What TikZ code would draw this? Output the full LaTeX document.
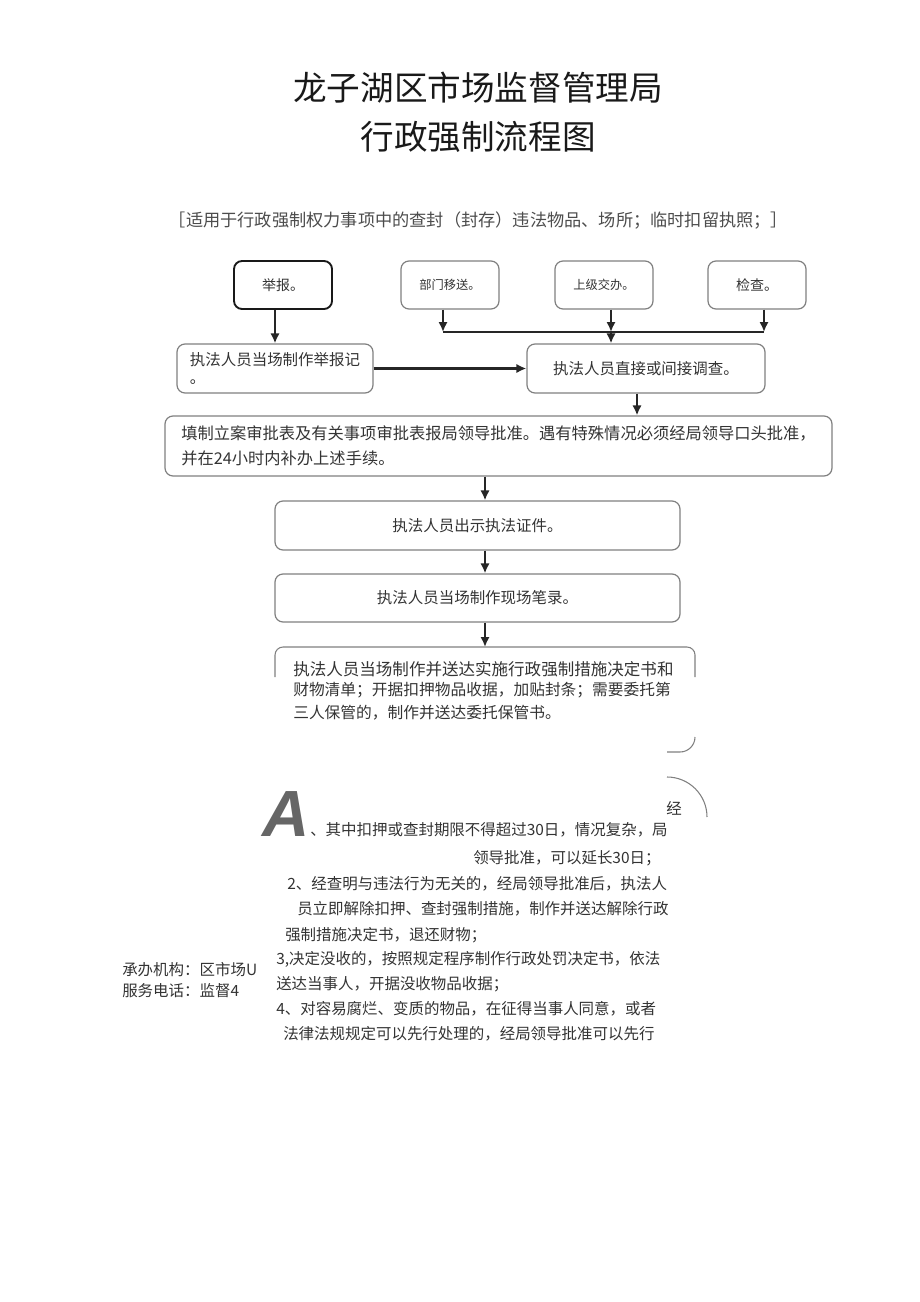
\documentclass[tikz,border=0pt]{standalone}
\usepackage{fontspec}
\setmainfont{Noto Sans CJK SC}
\newfontfamily\bigletter{Liberation Sans}
\usetikzlibrary{arrows.meta}

\begin{document}
\begin{tikzpicture}[yscale=-1,x=0.75pt,y=0.75pt,>={Latex[length=7.5pt,width=7pt]}]
				\tikzstyle{body} = [font=\fontsize{11.6}{13.5}\selectfont, text=black!80]
				\tikzstyle{proc} = [body, draw=black!50, line width=0.9pt, rounded corners=6pt, inner sep=0pt, minimum height=36.75pt]
				\tikzstyle{src} = [proc, minimum width=73.5pt, minimum height=36pt]
				\tikzstyle{line} = [body, inner sep=0pt, anchor=west]
				\tikzstyle{flow} = [->, line width=1.6pt, black!85]
				\tikzstyle{frag} = [draw=black!50, line width=0.8pt]
				\useasboundingbox (0,0) rectangle (920,1302);

				\node[font=\fontsize{25.2}{30}\selectfont, text=black!90] (title) at (478,88) {龙子湖区市场监督管理局};
				\node[font=\fontsize{25.2}{30}\selectfont, text=black!90] (subtitle) at (478,137) {行政强制流程图};
				\node[font=\fontsize{12.9}{15}\selectfont, text=black!70] (scope) at (478.5,221) {［适用于行政强制权力事项中的查封（封存）违法物品、场所；临时扣留执照；］};

				\node[src, draw=black!90, line width=1.4pt, font=\fontsize{10.5}{13}\selectfont] (report) at (283,285) {举报。};
				\node[src, font=\fontsize{9.2}{12}\selectfont] (transfer) at (450,285) {部门移送。};
				\node[src, font=\fontsize{9.2}{12}\selectfont] (assign) at (604,285) {上级交办。};
				\node[src, font=\fontsize{10.5}{13}\selectfont] (inspect) at (757,285) {检查。};
				\node[proc, minimum width=147pt, align=left] (record) at (275,368.5) {执法人员当场制作举报记\\。};
				\node[proc, minimum width=178.5pt] (survey) at (646,368.5) {执法人员直接或间接调查。};
				\node[proc, minimum width=500.25pt, minimum height=45pt, align=left, font=\fontsize{12.2}{18.75}\selectfont] (approve) at (498.5,446) {填制立案审批表及有关事项审批表报局领导批准。遇有特殊情况必须经局领导口头批准，\\并在24小时内补办上述手续。};
				\node[proc, minimum width=303.75pt] (badge) at (477.5,525.5) {执法人员出示执法证件。};
				\node[proc, minimum width=303.75pt, minimum height=36pt] (scene) at (477.5,598) {执法人员当场制作现场笔录。};

				\coordinate (b1) at (443,332);
				\coordinate (b2) at (611,332);
				\coordinate (b3) at (764,332);
				\coordinate (drop) at (637,0);
				\coordinate (spine) at (485,0);
				\coordinate (last) at (485,647);

				\draw[flow] (report.south -| record.north) -- (record.north);
				\draw[flow] (transfer.south -| b1) -- (b1);
				\draw[flow] (assign.south -| b2) -- (b2);
				\draw[flow] (inspect.south -| b3) -- (b3);
				\draw[line width=1.6pt, black!85] (b1) -- (b3);
				\draw[flow] (b2) -- (survey.north -| b2);
				\draw[flow] (record.east) -- (survey.west);
				\draw[flow] (survey.south -| drop) -- (approve.north -| drop);
				\draw[flow] (approve.south -| spine) -- (badge.north -| spine);
				\draw[flow] (badge.south -| spine) -- (scene.north -| spine);
				\draw[flow] (scene.south -| spine) -- (last);

				\draw[frag, rounded corners=6pt] (275,677) -- (275,647) -- (695,647) -- (695,677);
				\node[line, font=\fontsize{12.4}{15}\selectfont] (deliver1) at (293,669) {执法人员当场制作并送达实施行政强制措施决定书和};
				\node[line, font=\fontsize{11.8}{15}\selectfont] (deliver2) at (293,690) {财物清单；开据扣押物品收据，加贴封条；需要委托第};
				\node[line, font=\fontsize{11.8}{15}\selectfont] (deliver3) at (293,713) {三人保管的，制作并送达委托保管书。};

				\draw[frag] (667,752) -- (680,752) arc[start angle=90, end angle=0, radius=15];
				\draw[frag] (667,777) arc[start angle=-90, end angle=0, radius=40];
				\node[line] (jing) at (666,808) {经};

				\node[anchor=base west, inner sep=0pt, text=black!60, font=\bigletter\bfseries\itshape\fontsize{49}{50}\selectfont] (bigA) at (262,836) {A};
				\node[line] (note1) at (310,830) {、其中扣押或查封期限不得超过30日，情况复杂，局};
				\node[line] (note2) at (473,858) {领导批准，可以延长30日；};
				\node[line] (note3) at (287,884) {2、经查明与违法行为无关的，经局领导批准后，执法人};
				\node[line] (note4) at (297,909) {员立即解除扣押、查封强制措施，制作并送达解除行政};
				\node[line] (note5) at (285,935) {强制措施决定书，退还财物；};
				\node[line] (note6) at (276,959) {3,决定没收的，按照规定程序制作行政处罚决定书，依法};
				\node[line] (note7) at (276,984) {送达当事人，开据没收物品收据；};
				\node[line] (note8) at (276,1009) {4、对容易腐烂、变质的物品，在征得当事人同意，或者};
				\node[line] (note9) at (283,1034) {法律法规规定可以先行处理的，经局领导批准可以先行};

				\node[line] (office) at (122,970) {承办机构：区市场U};
				\node[line] (phone) at (122,991) {服务电话：监督4};
\end{tikzpicture}
\end{document}
